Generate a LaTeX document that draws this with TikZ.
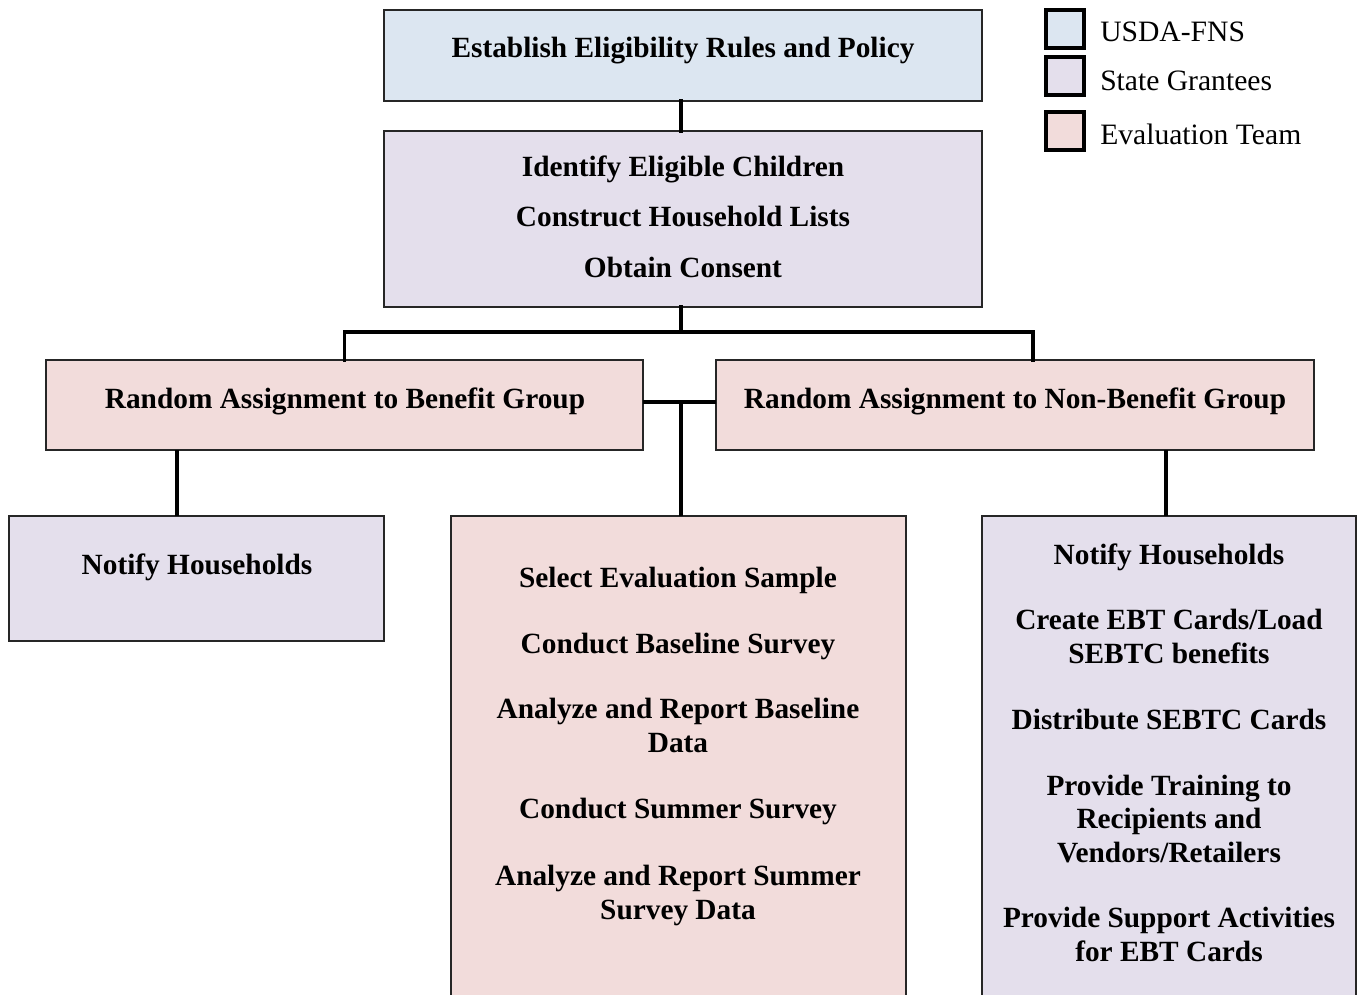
\documentclass[tikz,border=0pt]{standalone}
\usepackage{fontspec}
\setmainfont{Liberation Serif}
\usetikzlibrary{calc}
\definecolor{fnsblue}{HTML}{DCE6F1}
\definecolor{stlav}{HTML}{E4DFEC}
\definecolor{evpink}{HTML}{F2DCDB}
\tikzset{
  box/.style={draw=black!85, line width=1pt, inner sep=0pt, outer sep=0pt},
  conn/.style={line width=2.4pt, line cap=rect},
  lbl/.style={font=\bfseries\fontsize{22}{25}\selectfont, align=center, inner sep=0pt, anchor=base},
  legsq/.style={draw=black, line width=3pt, minimum size=28.5pt, inner sep=0pt},
  legtxt/.style={font=\fontsize{22.2}{25}\selectfont, inner sep=0pt, anchor=base west}
}
\newcommand\mybox[6]{\node[box,fill=#2,minimum width={(#5-#3)*0.75pt},minimum height={(#6-#4)*0.75pt}] (#1) at ({(#3+#5)/2},{(#4+#6)/2}) {};}
\begin{document}
\begin{tikzpicture}[x=0.75pt,y=-0.75pt]
\clip (0,0) rectangle (1357,995);
\fill[white] (0,0) rectangle (1357,995);
% boxes
\mybox{top}{fnsblue}{384}{10}{982}{101}
\mybox{mid}{stlav}{384}{131}{982}{307}
\mybox{ben}{evpink}{46}{360}{643}{450}
\mybox{nben}{evpink}{716}{360}{1314}{450}
\mybox{notif}{stlav}{9}{516}{384}{641}
\mybox{eval}{evpink}{451}{516}{906}{1010}
\mybox{state}{stlav}{982}{516}{1356}{1010}
% texts (base anchor = baseline of the last line)
\node[lbl] (ttop) at (683,58) {Establish Eligibility Rules and Policy};
\node[lbl] (tm1) at (683,177) {Identify Eligible Children};
\node[lbl] (tm2) at (683,227) {Construct Household Lists};
\node[lbl] (tm3) at (683,277) {Obtain Consent};
\node[lbl] (tben) at (345,408) {Random Assignment to Benefit Group};
\node[lbl] (tnben) at (1015,408) {Random Assignment to Non-Benefit Group};
\node[lbl] (tnot) at (197,574) {Notify Households};
\node[lbl] (te1) at (678,587) {Select Evaluation Sample};
\node[lbl] (te2) at (678,653) {Conduct Baseline Survey};
\node[lbl] (te3) at (678,752) {Analyze and Report Baseline\\Data};
\node[lbl] (te4) at (678,818) {Conduct Summer Survey};
\node[lbl] (te5) at (678,919) {Analyze and Report Summer\\Survey Data};
\node[lbl] (ts1) at (1169,564) {Notify Households};
\node[lbl] (ts2) at (1169,663) {Create EBT Cards/Load\\SEBTC benefits};
\node[lbl] (ts3) at (1169,729) {Distribute SEBTC Cards};
\node[lbl] (ts4) at (1169,862) {Provide Training to\\Recipients and\\Vendors/Retailers};
\node[lbl] (ts5) at (1169,961) {Provide Support Activities\\for EBT Cards};
% connectors
\coordinate (j1) at (681,332);
\coordinate (nbt) at (1033,360);
\coordinate (lb) at (177,450);
\coordinate (rb) at (1166,450);
\draw[conn] (top.south -| j1) -- (mid.north -| j1);
\draw[conn] (mid.south -| j1) -- (j1);
\draw[conn] (ben.north) -- (ben.north |- j1) -- (nbt |- j1) -- (nbt);
\draw[conn,line cap=butt] (ben.east |- 0,402) -- (nben.west |- 0,402);
\draw[conn,line cap=butt] (j1 |- 0,402) -- (eval.north -| j1);
\draw[conn,line cap=butt] (lb) -- (lb |- notif.north);
\draw[conn,line cap=butt] (rb) -- (rb |- state.north);
% legend
\node[legsq,fill=fnsblue] (lg1) at (1065,29) {};
\node[legsq,fill=stlav] (lg2) at (1065,76.5) {};
\node[legsq,fill=evpink] (lg3) at (1065,131.5) {};
\node[legtxt] (lt1) at (1100,42) {USDA-FNS};
\node[legtxt] (lt2) at (1100,91) {State Grantees};
\node[legtxt] (lt3) at (1100,145) {Evaluation Team};
\end{tikzpicture}
\end{document}
